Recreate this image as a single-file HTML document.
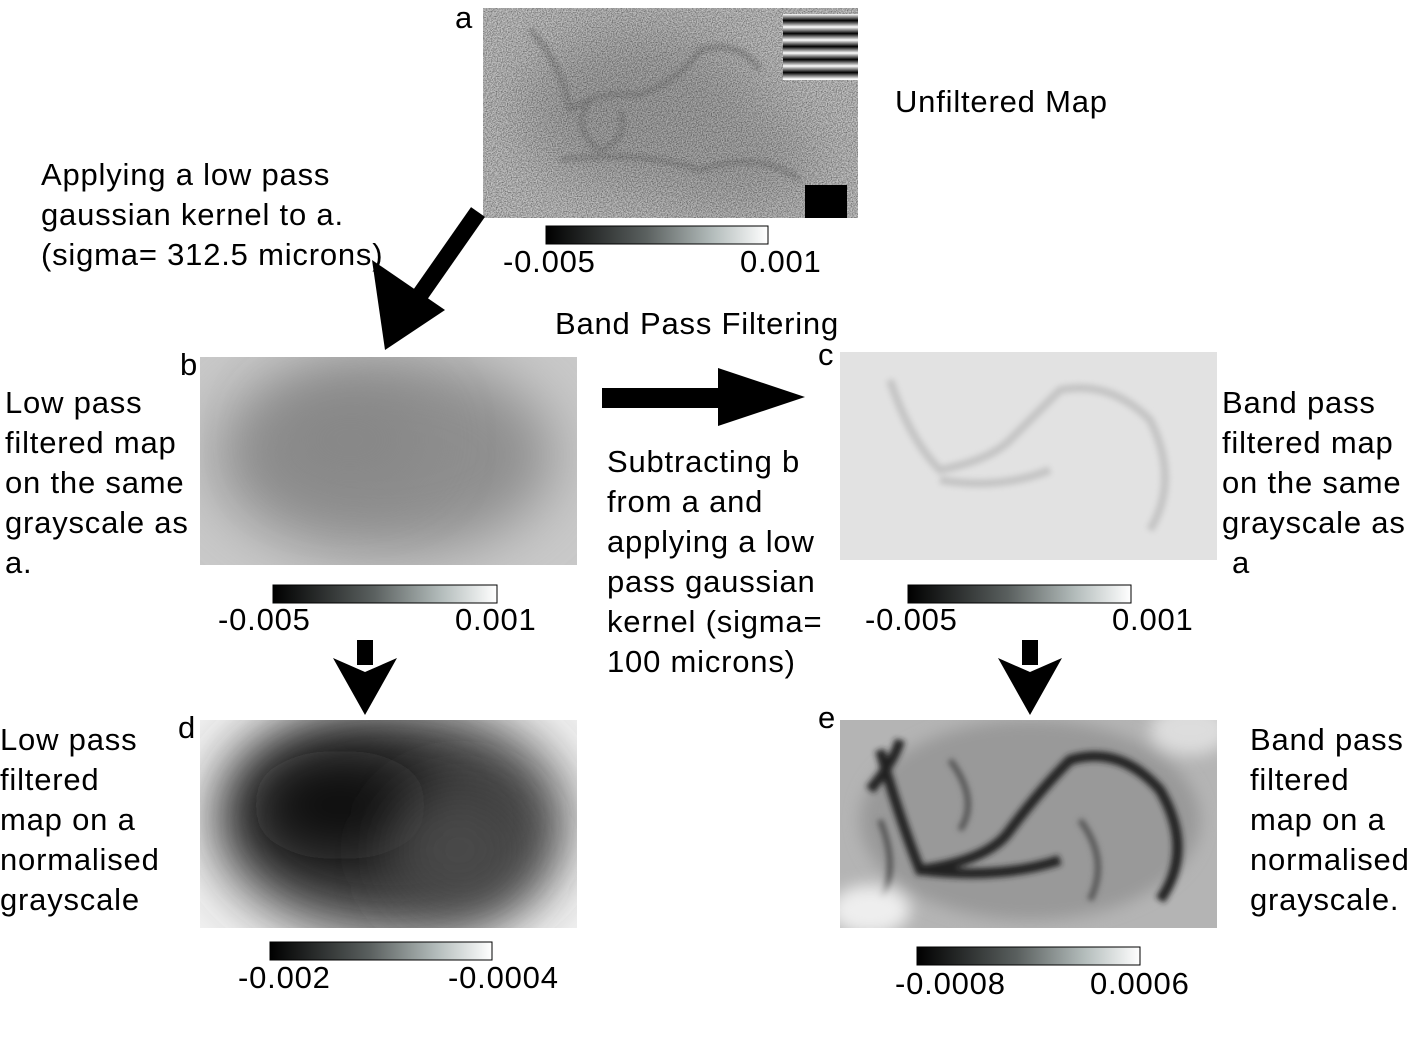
<!DOCTYPE html>
<html><head><meta charset="utf-8"><style>
html,body{margin:0;padding:0;background:#fff;}
svg{display:block;font-family:"Liberation Sans",Arial,sans-serif;}
text{font-size:31px;letter-spacing:0.8px;fill:#000;}
</style></head><body>
<svg width="1416" height="1045" viewBox="0 0 1416 1045">
<defs>
<linearGradient id="cb" x1="0" x2="1"><stop offset="0" stop-color="#000"/><stop offset="0.45" stop-color="#5a605f"/><stop offset="0.75" stop-color="#b3bcbb"/><stop offset="1" stop-color="#fff"/></linearGradient>
<filter id="b30" x="-100%" y="-100%" width="300%" height="300%"><feGaussianBlur stdDeviation="30"/></filter>
<filter id="b12" x="-100%" y="-100%" width="300%" height="300%"><feGaussianBlur stdDeviation="8"/></filter>
<filter id="b4" x="-50%" y="-50%" width="200%" height="200%"><feGaussianBlur stdDeviation="3"/></filter>
<filter id="noise" x="0" y="0" width="100%" height="100%"><feTurbulence type="fractalNoise" baseFrequency="0.8" numOctaves="2"/><feColorMatrix type="matrix" values="0 0 0 0 0  0 0 0 0 0  0 0 0 0 0  1 0 0 0 -0.35"/></filter>
<linearGradient id="stripe" x1="0" x2="0" y1="0" y2="1"><stop offset="0" stop-color="#fff"/><stop offset="0.5" stop-color="#000"/><stop offset="1" stop-color="#fff"/></linearGradient>
<clipPath id="ca"><rect x="483" y="8" width="375" height="210"/></clipPath>
<clipPath id="cbp"><rect x="200" y="357" width="377" height="208"/></clipPath>
<clipPath id="cc"><rect x="840" y="352" width="377" height="208"/></clipPath>
<clipPath id="cd"><rect x="200" y="720" width="377" height="208"/></clipPath>
<clipPath id="ce"><rect x="840" y="720" width="377" height="208"/></clipPath>
</defs>

<g clip-path="url(#ca)">
<rect x="483" y="8" width="375" height="210" fill="#c4c4c4"/>
<ellipse cx="640" cy="110" rx="120" ry="80" fill="#a6a6a6" filter="url(#b30)"/>
<ellipse cx="740" cy="160" rx="80" ry="50" fill="#a8a8a8" filter="url(#b30)"/>
<path d="M530 30 Q560 60 570 110 Q600 90 640 95 Q680 80 700 50 Q740 40 760 70 M590 100 Q570 130 600 150 Q630 140 620 110 M560 160 Q640 150 700 170 Q760 150 800 180" stroke="#888" stroke-width="4" fill="none" filter="url(#b4)"/>
<rect x="483" y="8" width="375" height="210" fill="#000" filter="url(#noise)"/>
<g>
<rect x="783" y="14" width="75" height="66" fill="#fff"/>
<rect x="783" y="14" width="75" height="13" fill="url(#stripe)"/>
<rect x="783" y="27" width="75" height="13" fill="url(#stripe)"/>
<rect x="783" y="40" width="75" height="13" fill="url(#stripe)"/>
<rect x="783" y="53" width="75" height="13" fill="url(#stripe)"/>
<rect x="783" y="66" width="75" height="13" fill="url(#stripe)"/>
</g>
<rect x="805" y="185" width="42" height="33" fill="#000"/>
</g>
<text x="455" y="28">a</text>
<text x="895" y="112">Unfiltered Map</text>
<g>
<rect x="546" y="226" width="222" height="18" fill="url(#cb)" stroke="#000" stroke-width="1"/>
<text x="503" y="272">-0.005</text><text x="740" y="272">0.001</text>
</g>

<g>
<text x="41" y="185">Applying a low pass</text>
<text x="41" y="225">gaussian kernel to a.</text>
<text x="41" y="265">(sigma= 312.5 microns)</text>
</g>
<g>
<line x1="478" y1="212" x2="420" y2="295" stroke="#000" stroke-width="17"/>
<polygon points="385,350 372,260 445,310" fill="#000"/>
</g>
<text x="555" y="334">Band Pass Filtering</text>

<g clip-path="url(#cbp)">
<rect x="200" y="357" width="377" height="208" fill="#c9c9c9"/>
<ellipse cx="385" cy="455" rx="170" ry="100" fill="#8e8e8e" filter="url(#b30)"/>
<ellipse cx="350" cy="440" rx="80" ry="50" fill="#878787" filter="url(#b30)"/>
</g>
<text x="180" y="375">b</text>
<g>
<text x="5" y="413">Low pass</text><text x="5" y="453">filtered map</text><text x="5" y="493">on the same</text><text x="5" y="533">grayscale as</text><text x="5" y="573">a.</text>
</g>
<g>
<rect x="273" y="585" width="224" height="18" fill="url(#cb)" stroke="#000" stroke-width="1"/>
<text x="218" y="630">-0.005</text><text x="455" y="630">0.001</text>
</g>

<g>
<rect x="602" y="388" width="120" height="20" fill="#000"/>
<polygon points="718,368 805,397 718,426" fill="#000"/>
</g>
<g>
<text x="607" y="472">Subtracting b</text><text x="607" y="512">from a and</text><text x="607" y="552">applying a low</text><text x="607" y="592">pass gaussian</text><text x="607" y="632">kernel (sigma=</text><text x="607" y="672">100 microns)</text>
</g>

<g clip-path="url(#cc)">
<rect x="840" y="352" width="377" height="208" fill="#e2e2e2"/>
<path d="M890 380 Q910 440 940 470 Q990 460 1010 440 Q1040 410 1060 390 Q1110 380 1150 420 Q1180 480 1150 530 M940 480 Q1000 490 1050 470" stroke="#c4c4c4" stroke-width="8" fill="none" filter="url(#b4)"/>
</g>
<text x="818" y="365">c</text>
<g>
<text x="1222" y="413">Band pass</text><text x="1222" y="453">filtered map</text><text x="1222" y="493">on the same</text><text x="1222" y="533">grayscale as</text><text x="1232" y="573">a</text>
</g>
<g>
<rect x="908" y="585" width="223" height="18" fill="url(#cb)" stroke="#000" stroke-width="1"/>
<text x="865" y="630">-0.005</text><text x="1112" y="630">0.001</text>
</g>

<g>
<rect x="357" y="640" width="16" height="25" fill="#000"/>
<polygon points="333,658 365,715 397,658 365,672" fill="#000"/>
</g>
<g>
<rect x="1022" y="640" width="16" height="25" fill="#000"/>
<polygon points="998,658 1030,715 1062,658 1030,672" fill="#000"/>
</g>

<g clip-path="url(#cd)">
<rect x="200" y="720" width="377" height="208" fill="#f2f2f2"/>
<ellipse cx="390" cy="820" rx="175" ry="115" fill="#3a3a3a" filter="url(#b30)"/>
<ellipse cx="340" cy="805" rx="90" ry="55" fill="#111" filter="url(#b30)"/>
<ellipse cx="460" cy="850" rx="70" ry="60" fill="#4a4a4a" filter="url(#b30)"/>
</g>
<text x="178" y="738">d</text>
<g>
<text x="0" y="750">Low pass</text><text x="0" y="790">filtered</text><text x="0" y="830">map on a</text><text x="0" y="870">normalised</text><text x="0" y="910">grayscale</text>
</g>
<g>
<rect x="270" y="942" width="222" height="18" fill="url(#cb)" stroke="#000" stroke-width="1"/>
<text x="238" y="988">-0.002</text><text x="448" y="988">-0.0004</text>
</g>

<g clip-path="url(#ce)">
<rect x="840" y="720" width="377" height="208" fill="#b4b4b4"/>
<ellipse cx="1030" cy="820" rx="170" ry="100" fill="#999" filter="url(#b12)"/>
<path d="M880 750 Q900 820 920 870 Q990 860 1010 830 Q1040 790 1070 760 Q1120 745 1160 790 Q1195 850 1160 900 M920 870 Q1000 880 1060 860 M870 790 Q895 760 900 740" stroke="#222" stroke-width="10" fill="none" filter="url(#b4)"/>
<path d="M950 760 Q980 800 960 830 M1080 820 Q1110 860 1090 900 M880 820 Q900 870 880 900" stroke="#555" stroke-width="6" fill="none" filter="url(#b4)"/>
<ellipse cx="870" cy="910" rx="40" ry="25" fill="#eee" filter="url(#b12)"/>
<ellipse cx="1190" cy="730" rx="40" ry="25" fill="#ddd" filter="url(#b12)"/>
</g>
<text x="818" y="728">e</text>
<g>
<text x="1250" y="750">Band pass</text><text x="1250" y="790">filtered</text><text x="1250" y="830">map on a</text><text x="1250" y="870">normalised</text><text x="1250" y="910">grayscale.</text>
</g>
<g>
<rect x="917" y="947" width="223" height="18" fill="url(#cb)" stroke="#000" stroke-width="1"/>
<text x="895" y="994">-0.0008</text><text x="1090" y="994">0.0006</text>
</g>
</svg>
</body></html>
